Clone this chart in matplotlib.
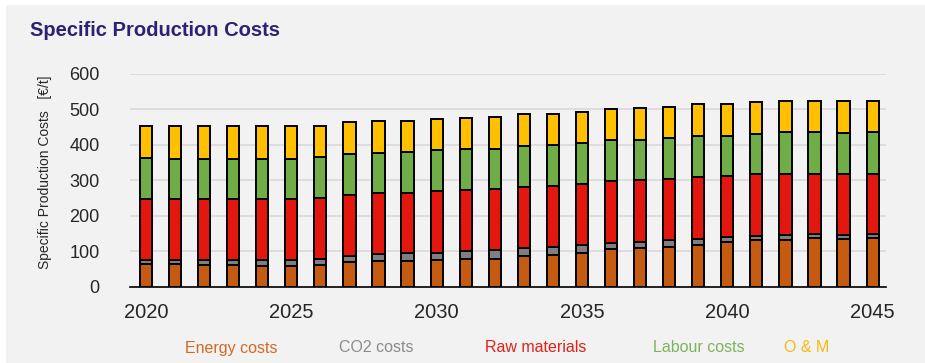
import matplotlib.pyplot as plt
from matplotlib.patches import Rectangle
import numpy as np

plt.rcParams['font.family'] = ['Liberation Sans', 'DejaVu Sans']

years = np.arange(2020, 2046)

# cost components in EUR per tonne
energy = [64, 63, 61, 60, 58, 58, 60, 69, 72, 72, 74, 77, 79,
          86, 90, 96, 106, 108, 113, 119, 126, 131, 133, 136, 135, 138]
co2 = [11, 12, 13, 16, 18, 18, 18, 18, 19, 22, 22, 24, 24,
       24, 23, 22, 18, 19, 18, 16, 13, 13, 14, 13, 12, 12]
raw = [173, 173, 174, 172, 172, 172, 173, 173, 174, 171, 174, 171, 172,
       172, 172, 172, 173, 173, 174, 175, 174, 173, 172, 170, 172, 169]
labour = [114, 113, 113, 113, 113, 113, 114, 115, 113, 115, 115, 116, 114,
          115, 116, 115, 116, 115, 114, 115, 113, 114, 116, 117, 114, 116]
om = [90, 91, 91, 91, 91, 91, 88, 89, 90, 88, 88, 88, 90,
      89, 87, 88, 87, 88, 89, 89, 90, 89, 88, 87, 90, 88]

series = [energy, co2, raw, labour, om]
names = ['Energy costs', 'CO2 costs', 'Raw materials', 'Labour costs', 'O & M']
bar_colors = ['#C55A11', '#7F7F7F', '#E3170D', '#70AD47', '#FFC000']
text_colors = ['#D36A22', '#8C8C8C', '#E0221A', '#7DB35A', '#F7BA12']

bg = '#F2F2F2'
fig = plt.figure(figsize=(9.25, 3.63), dpi=100, facecolor='white')
fig.patches.append(Rectangle((6 / 925, 0), 1, 1 - 5 / 363, transform=fig.transFigure,
                             facecolor=bg, edgecolor='none', zorder=-10))

ax = fig.add_axes([130 / 925, 1 - 286.7 / 363, 756 / 925, 212.7 / 363])
ax.set_facecolor(bg)

bottom = np.zeros(len(years))
for vals, col in zip(series, bar_colors):
    ax.bar(years, vals, width=0.42, bottom=bottom, color=col,
           edgecolor='black', linewidth=1.4, zorder=3)
    bottom += np.array(vals)

ax.set_ylim(0, 600)
ax.set_xlim(2019.45, 2045.46)
ax.set_yticks(range(0, 601, 100))
ax.set_xticks(range(2020, 2046, 5))
ax.tick_params(axis='y', length=0, labelsize=13, colors='#262626', pad=22)
ax.tick_params(axis='x', length=0, labelsize=14.5, colors='#262626', pad=12)
ax.grid(axis='y', color='#D9D9D9', linewidth=1.2, zorder=0)
for s in ['top', 'right', 'left']:
    ax.spines[s].set_visible(False)
ax.spines['bottom'].set_color('black')
ax.spines['bottom'].set_linewidth(1.2)
ax.spines['bottom'].set_zorder(4)

fig.text(45 / 925, 1 - 172 / 363, 'Specific Production Costs   [\u20ac/t]', rotation=90,
         ha='center', va='center', fontsize=10, color='#262626')

fig.text(30 / 925, 1 - 31 / 363, 'Specific Production Costs', fontsize=14.5,
         fontweight='bold', color='#2C2275', ha='left', va='center')

# colored text legend under the axis
legend_x = [231, 376, 536, 699, 807]
for x, name, col in zip(legend_x, names, text_colors):
    fig.text(x / 925, 1 - 348 / 363, name, color=col, fontsize=11.5,
             ha='center', va='center')

fig.savefig('out.png', dpi=100, facecolor=fig.get_facecolor())
